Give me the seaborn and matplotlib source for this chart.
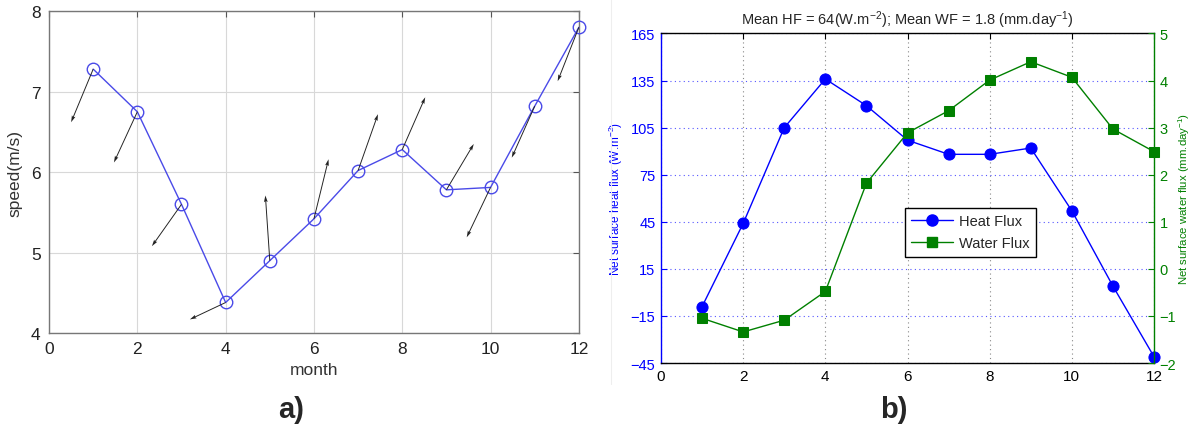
import numpy as np
import pandas as pd
import matplotlib
matplotlib.use("Agg")
import matplotlib.pyplot as plt
import seaborn as sns
from matplotlib.lines import Line2D

# ---------------- data ----------------
months = [1, 2, 3, 4, 5, 6, 7, 8, 9, 10, 11, 12]
speed = [7.28, 6.75, 5.60, 4.38, 4.90, 5.42, 6.02, 6.28, 5.78, 5.81, 6.82, 7.80]
wind_u = [-0.50, -0.53, -0.67, -0.81, -0.10, 0.33, 0.45, 0.52, 0.62, -0.54, -0.52, -0.48]
wind_v = [-0.66, -0.63, -0.52, -0.21, 0.81, 0.74, 0.70, 0.65, 0.57, -0.62, -0.64, -0.67]

heat_flux = [-9, 44, 105, 136, 119, 97, 88, 88, 92, 52, 4, -41]
water_flux = [-1.05, -1.34, -1.09, -0.48, 1.82, 2.89, 3.36, 4.01, 4.40, 4.07, 2.97, 2.49]

x_ticks = [0, 2, 4, 6, 8, 10, 12]
speed_ticks = [4, 5, 6, 7, 8]
heat_ticks = [-45, -15, 15, 45, 75, 105, 135, 165]
water_ticks = [-2, -1, 0, 1, 2, 3, 4, 5]

df_a = pd.DataFrame({"month": months, "speed": speed})
df_b = pd.DataFrame({"month": months, "heat": heat_flux, "water": water_flux})

# ---------------- style ----------------
sns.set_style("white")
plt.rcParams["font.family"] = ["Liberation Sans", "DejaVu Sans"]
plt.rcParams["mathtext.fontset"] = "custom"
plt.rcParams["mathtext.rm"] = "Liberation Sans"
plt.rcParams["mathtext.it"] = "Liberation Sans"

fig = plt.figure(figsize=(11.96, 4.35), dpi=100)

# ================= panel a =================
ax1 = fig.add_axes([0.041, 0.232, 0.443, 0.740])
line_blue = "#4a4ae8"
sns.lineplot(data=df_a, x="month", y="speed", ax=ax1, color=line_blue, lw=1.0,
             marker="o", markersize=9, markerfacecolor="none",
             markeredgecolor=line_blue, markeredgewidth=1.0, zorder=3, clip_on=False)
ax1.quiver(months, speed, wind_u, wind_v, angles="xy", scale_units="xy", scale=1,
           color="#222222", width=0.0018, headwidth=4, headlength=7,
           headaxislength=6, zorder=4)
ax1.set_xlim(0, 12)
ax1.set_ylim(4, 8)
ax1.set_xticks(x_ticks)
ax1.set_yticks(speed_ticks)
ax1.grid(True, color="#d8d8d8", lw=0.8, ls="-")
ax1.set_axisbelow(True)
ax1.tick_params(direction="in", length=4, labelsize=12.5, colors="#555555",
                labelcolor="#222222", top=True, right=True, pad=6)
for s in ax1.spines.values():
    s.set_color("#777777")
    s.set_linewidth(1.0)
ax1.set_xlabel("month", fontsize=12.5, color="#333333", labelpad=4)
ax1.set_ylabel("speed(m/s)", fontsize=12.5, color="#333333", labelpad=6)
fig.text(0.243, 0.057, "a)", fontsize=21, fontweight="bold", ha="center", va="center")

# ================= panel b =================
blue = "#0000ff"
green = "#008000"
ax2 = fig.add_axes([0.5527, 0.1632, 0.4122, 0.7575])
ax3 = ax2.twinx()

sns.lineplot(data=df_b, x="month", y="heat", ax=ax2, color=blue, lw=1.0,
             marker="o", markersize=8, markeredgecolor=blue, markerfacecolor=blue,
             label="Heat Flux", legend=False, zorder=3, clip_on=False)
sns.lineplot(data=df_b, x="month", y="water", ax=ax3, color=green, lw=1.0,
             marker="s", markersize=7, markeredgecolor=green, markerfacecolor=green,
             label="Water Flux", legend=False, zorder=3, clip_on=False)

ax2.set_xlim(0, 12)
ax2.set_ylim(-45, 165)
ax3.set_ylim(-2, 5)
ax2.set_xticks(x_ticks)
ax2.set_yticks(heat_ticks)
ax3.set_yticks(water_ticks)

ax2.xaxis.grid(True, color="#888888", ls=(0, (1, 3)), lw=0.8)
ax2.yaxis.grid(True, color="#5555ff", ls=(0, (1, 3)), lw=0.8)
ax2.set_axisbelow(True)

ax2.tick_params(axis="x", direction="in", length=4, labelsize=11, colors="black", top=True, pad=4)
ax2.tick_params(axis="y", direction="in", length=4, labelsize=10.5, colors=blue, pad=4)
ax3.tick_params(axis="y", direction="in", length=4, labelsize=10.5, colors=green, pad=4)

for name, s in ax2.spines.items():
    s.set_color("black")
    s.set_linewidth(1.0)
ax2.spines["left"].set_color(blue)
ax3.spines["left"].set_visible(False)
ax3.spines["top"].set_visible(False)
ax3.spines["bottom"].set_visible(False)
ax3.spines["right"].set_color(green)
ax3.spines["right"].set_linewidth(1.0)
ax2.spines["right"].set_visible(False)

ax2.set_xlabel("")
ax2.set_ylabel(r"Net surface heat flux (W.m$^{-2}$)", color=blue, fontsize=8.5, labelpad=4)
ax3.set_ylabel(r"Net surface water flux (mm.day$^{-1}$)", color=green, fontsize=8.2,
               rotation=90)
ax3.yaxis.set_label_coords(1.045, 0.5)
ax2.set_title(r"Mean HF = 64(W.m$^{-2}$); Mean WF = 1.8 (mm.day$^{-1}$)",
              fontsize=10.5, pad=7)

handles = [
    Line2D([], [], color=blue, lw=1.0, marker="o", markersize=8, markerfacecolor=blue),
    Line2D([], [], color=green, lw=1.0, marker="s", markersize=7, markerfacecolor=green),
]
leg = ax3.legend(handles, ["Heat Flux", "Water Flux"], loc="lower left",
                 bbox_to_anchor=(0.494, 0.322), fontsize=10.5, frameon=True,
                 fancybox=False, edgecolor="black", framealpha=1,
                 handlelength=2.9, handletextpad=0.4, borderpad=0.45,
                 labelspacing=0.55, borderaxespad=0)
leg.get_frame().set_linewidth(1.0)

fig.text(0.747, 0.057, "b)", fontsize=21, fontweight="bold", ha="center", va="center")

# faint border of the right image
fig.add_artist(Line2D([0.511, 0.511], [0.115, 1.0], color="#eeeeee", lw=0.8))

fig.savefig("out.png", dpi=100)
